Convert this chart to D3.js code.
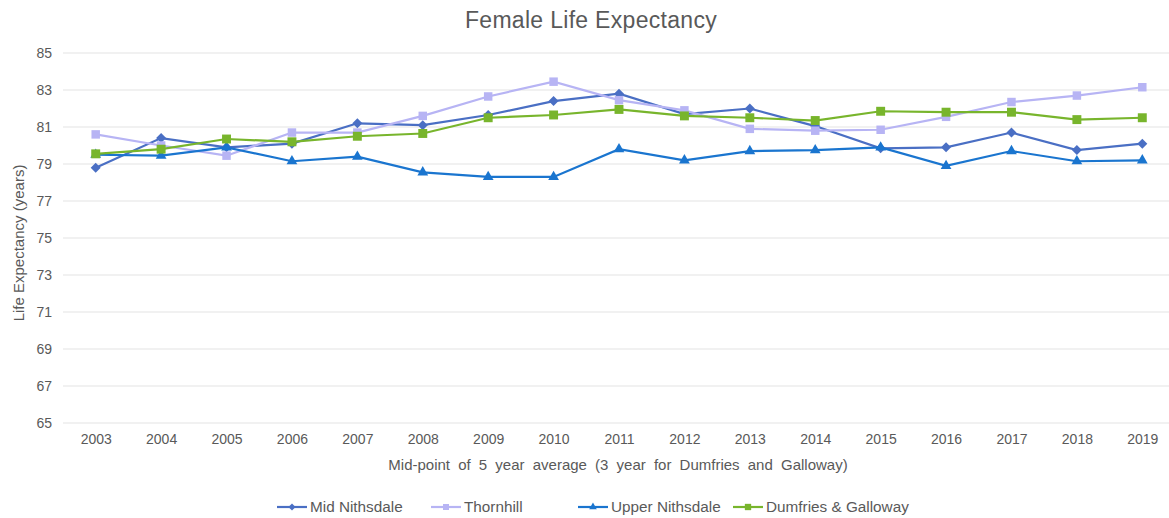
<!DOCTYPE html>
<html>
<head>
<meta charset="utf-8">
<script src="https://cdn.jsdelivr.net/npm/d3@7"></script>
<style>
  body { margin: 0; background: #fff; }
  svg { font-family: "Liberation Sans", Arial, sans-serif; }
  .grid line { stroke: #e3e3e3; }
  .tick text { fill: #595959; font-size: 14px; }
</style>
</head>
<body>
<svg></svg>
<script>
const width = 1169;
const height = 518;

const years = ["2003","2004","2005","2006","2007","2008","2009","2010","2011",
  "2012","2013","2014","2015","2016","2017","2018","2019"];
const yTicks = [65, 67, 69, 71, 73, 75, 77, 79, 81, 83, 85];

const midNithsdale   = [78.8, 80.4, 79.9, 80.1, 81.2, 81.1, 81.65, 82.4, 82.8, 81.7, 82.0, 81.05, 79.85, 79.9, 80.7, 79.75, 80.1];
const thornhill      = [80.6, 80.0, 79.45, 80.7, 80.7, 81.6, 82.65, 83.45, 82.45, 81.9, 80.9, 80.8, 80.85, 81.55, 82.35, 82.7, 83.15];
const upperNithsdale = [79.5, 79.45, 79.9, 79.15, 79.4, 78.55, 78.3, 78.3, 79.8, 79.2, 79.7, 79.75, 79.9, 78.9, 79.7, 79.15, 79.2];
const dumfries       = [79.55, 79.8, 80.35, 80.2, 80.5, 80.65, 81.5, 81.65, 81.95, 81.6, 81.5, 81.35, 81.85, 81.8, 81.8, 81.4, 81.5];

const series = [
  { name: "Mid Nithsdale", values: midNithsdale, color: "#4a6fc4", symbol: d3.symbolSquare, size: 50, rotate: 45 },
  { name: "Thornhill", values: thornhill, color: "#b7b4f4", symbol: d3.symbolSquare, size: 72, rotate: 0 },
  { name: "Upper Nithsdale", values: upperNithsdale, color: "#1a75cf", symbol: d3.symbolTriangle, size: 50, rotate: 0 },
  { name: "Dumfries & Galloway", values: dumfries, color: "#78b52c", symbol: d3.symbolSquare, size: 80, rotate: 0 }
];

const svg = d3.select("svg")
    .attr("width", width)
    .attr("height", height);

const x = d3.scalePoint()
    .domain(years)
    .range([63, 1175])
    .padding(0.5);

const y = d3.scaleLinear()
    .domain([65, 85])
    .range([423, 53]);

// horizontal gridlines
svg.append("g")
    .attr("class", "grid")
    .selectAll("line")
    .data(yTicks)
    .enter().append("line")
    .attr("x1", 63)
    .attr("x2", width)
    .attr("y1", d => y(d))
    .attr("y2", d => y(d));

const yAxis = svg.append("g")
    .attr("transform", "translate(60,0)")
    .call(d3.axisLeft(y).tickValues(yTicks).tickSize(0).tickPadding(8));
yAxis.select(".domain").remove();

const xAxis = svg.append("g")
    .attr("transform", "translate(0,431)")
    .call(d3.axisBottom(x).tickSize(0).tickPadding(3));
xAxis.select(".domain").remove();

const line = d3.line()
    .x((d, i) => x(years[i]))
    .y(d => y(d));

const lines = svg.append("g")
    .selectAll("g")
    .data(series)
    .enter().append("g");

lines.append("path")
    .attr("fill", "none")
    .attr("stroke", d => d.color)
    .attr("stroke-width", 2.2)
    .attr("d", d => line(d.values));

lines.each(function(s) {
  d3.select(this).selectAll("path.marker")
      .data(s.values)
      .enter().append("path")
      .attr("class", "marker")
      .attr("fill", s.color)
      .attr("d", d3.symbol().type(s.symbol).size(s.size))
      .attr("transform", (d, i) => `translate(${x(years[i])},${y(d)}) rotate(${s.rotate})`);
});

// title
svg.append("text")
    .attr("x", 591)
    .attr("y", 28)
    .attr("text-anchor", "middle")
    .attr("fill", "#595959")
    .style("font-size", "23px")
    .style("letter-spacing", "0.3px")
    .text("Female Life Expectancy");

// axis titles
svg.append("text")
    .attr("transform", "translate(24,243) rotate(-90)")
    .attr("text-anchor", "middle")
    .attr("fill", "#595959")
    .style("font-size", "15px")
    .text("Life Expectancy (years)");

svg.append("text")
    .attr("x", 618)
    .attr("y", 470)
    .attr("text-anchor", "middle")
    .attr("fill", "#595959")
    .style("font-size", "15px")
    .style("word-spacing", "4px")
    .text("Mid-point of 5 year average (3 year for Dumfries and Galloway)");

// legend
const legendX = [277, 431, 578, 733];
const legend = svg.append("g")
    .selectAll("g")
    .data(series)
    .enter().append("g")
    .attr("transform", (d, i) => `translate(${legendX[i]},507)`);

legend.append("line")
    .attr("x1", 0).attr("x2", 30)
    .attr("stroke", d => d.color)
    .attr("stroke-width", 2.2);

legend.append("path")
    .attr("fill", d => d.color)
    .attr("d", d => d3.symbol().type(d.symbol).size(d.size * 0.5)())
    .attr("transform", d => `translate(15,0) rotate(${d.rotate})`);

legend.append("text")
    .attr("x", 33)
    .attr("y", 5)
    .attr("fill", "#595959")
    .style("font-size", "15.3px")
    .text(d => d.name);
</script>
</body>
</html>
